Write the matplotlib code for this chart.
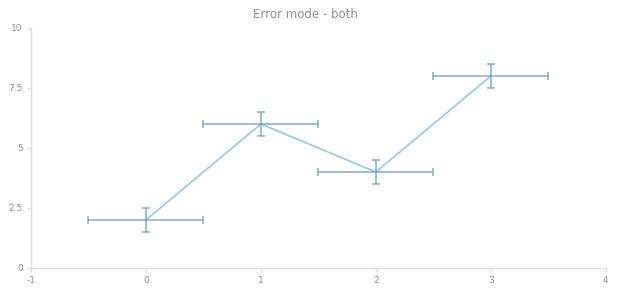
import matplotlib
matplotlib.use("Agg")
import matplotlib.pyplot as plt
from matplotlib.ticker import FuncFormatter

x = [0, 1, 2, 3]
y = [2, 6, 4, 8]
x_err = [0.5, 0.5, 0.5, 0.5]
y_err = [0.5, 0.5, 0.5, 0.5]
x_ticks = [-1, 0, 1, 2, 3, 4]
y_ticks = [0, 2.5, 5, 7.5, 10]
title = "Error mode - both"

plt.rcParams['font.family'] = ['DejaVu Sans']
fig = plt.figure(figsize=(6.2, 3.0), dpi=100)
ax = fig.add_axes([0.05, 0.1067, 0.927, 0.80])

ax.plot(x, y, color='#8ec8f4', lw=1.2, zorder=2)
ax.errorbar(x, y, xerr=x_err, yerr=y_err, fmt='none', ecolor='#6a9ccc',
            elinewidth=1.1, capsize=3, capthick=1.1, alpha=0.85, zorder=3)

ax.set_xlim(-1, 4)
ax.set_ylim(0, 10)
ax.set_xticks(x_ticks)
ax.set_yticks(y_ticks)
ax.yaxis.set_major_formatter(FuncFormatter(lambda v, p: f"{v:g}"))
ax.xaxis.set_major_formatter(FuncFormatter(lambda v, p: f"{v:g}"))
for s in ['top', 'right']:
    ax.spines[s].set_visible(False)
for s in ['left', 'bottom']:
    ax.spines[s].set_color('#dddddd')
    ax.spines[s].set_linewidth(1)
ax.tick_params(axis='both', colors='#dddddd', labelcolor='#8a8f99', labelsize=6.5,
               length=3, width=1, direction='out', pad=3)
fig.suptitle(title, x=0.492, y=0.975, fontsize=8.5, color='#8a8f99')

fig.savefig("out.png", dpi=100, facecolor='white')
